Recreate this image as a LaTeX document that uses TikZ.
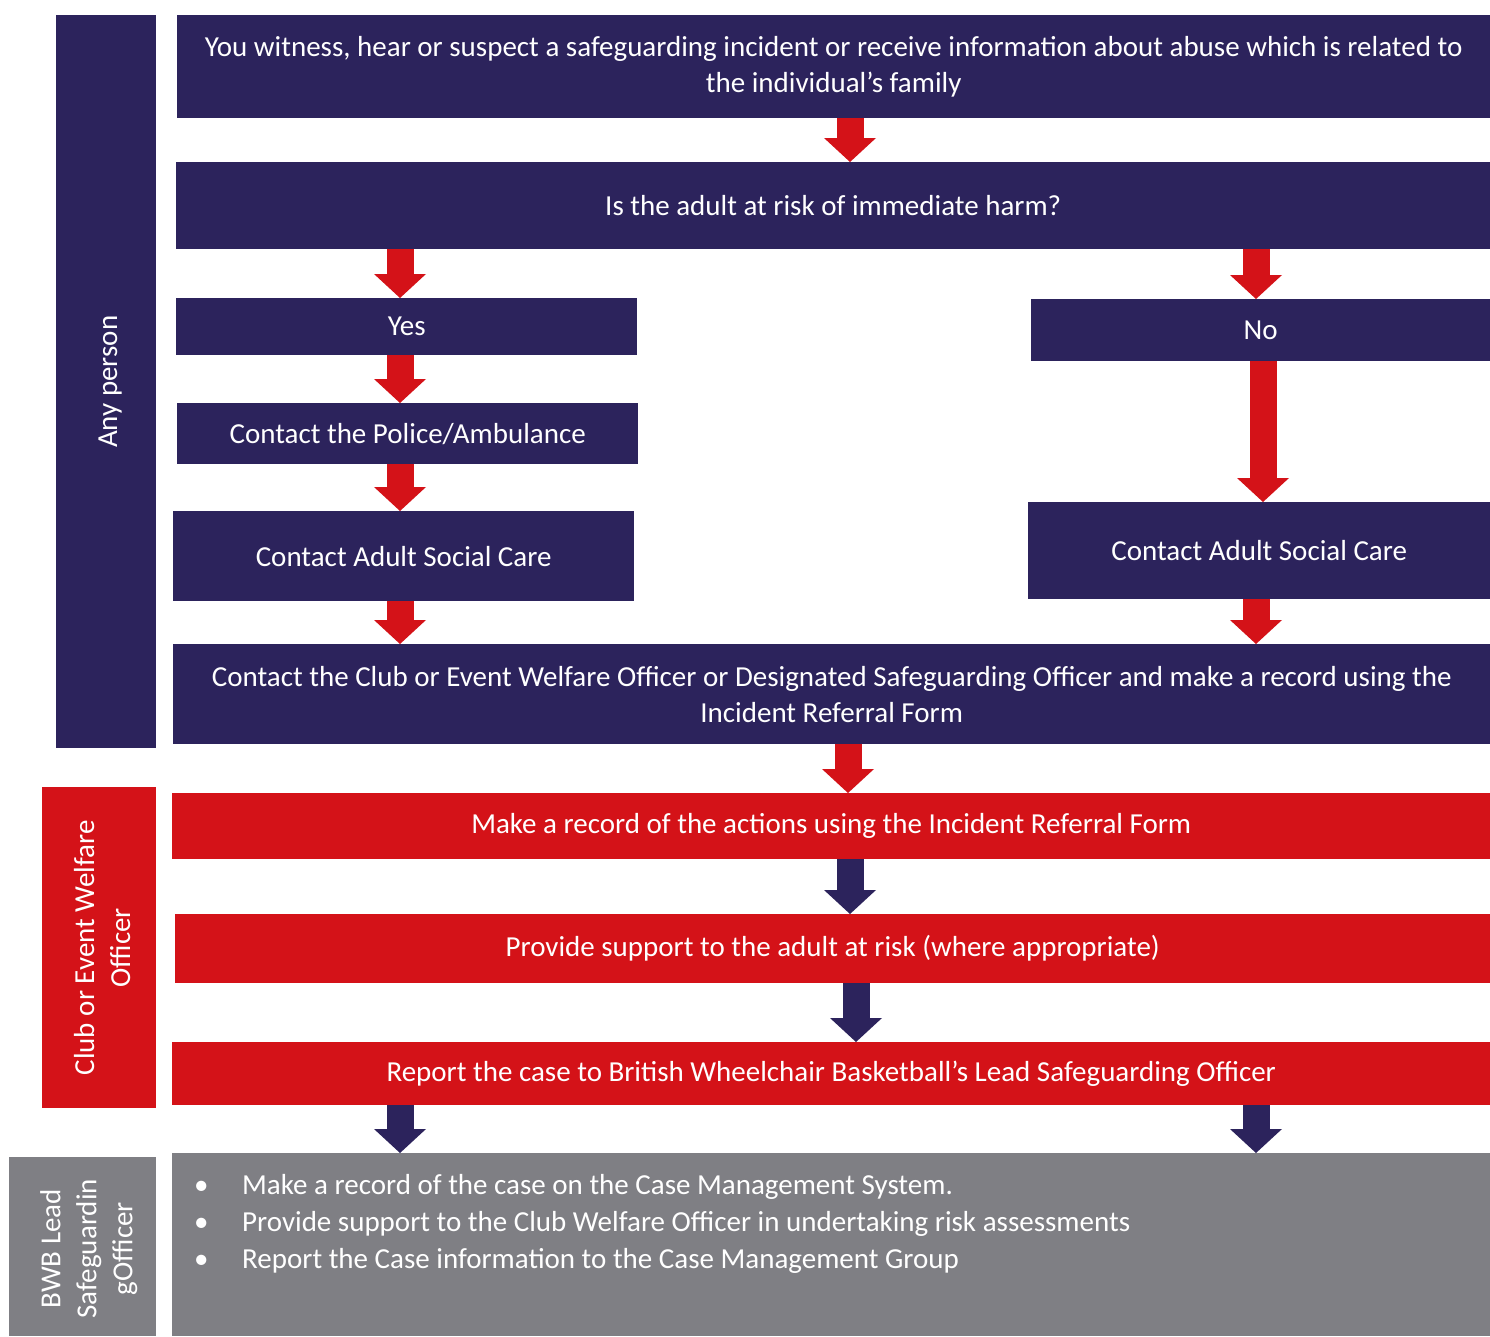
\documentclass[tikz,border=0pt]{standalone}
\usepackage{fontspec}
\setmainfont{Carlito}
\usetikzlibrary{arrows.meta,positioning}

\definecolor{bwbnavy}{RGB}{44,35,92}
\definecolor{bwbred}{RGB}{212,18,24}
\definecolor{bwbgrey}{RGB}{127,127,132}

\tikzset{
  box/.style={anchor=north west, inner sep=0pt, align=center, text=white,
    font=\fontsize{29}{36}\selectfont},
  navybox/.style={box, fill=bwbnavy},
  redbox/.style={box, fill=bwbred},
  greybox/.style={box, fill=bwbgrey, align=left},
  lanebox/.style={anchor=north west, inner sep=0pt},
  lane/.style={rotate=90, inner sep=0pt, align=center, text=white,
    font=\fontsize{29}{36}\selectfont},
  bigarrow/.style={line width=27pt, -{Triangle[width=52pt,length=24pt,line width=0pt]}},
  redarrow/.style={bigarrow, draw=bwbred},
  navyarrow/.style={bigarrow, draw=bwbnavy},
}

\begin{document}
\begin{tikzpicture}[x=1pt,y=-1pt]
\useasboundingbox (0,0) rectangle (1490,1336);

% Define coordinates for the arrow columns
\coordinate (top) at (850,0);
\coordinate (left) at (400,0);
\coordinate (right) at (1256,0);
\coordinate (longno) at (1263,0);
\coordinate (mid1) at (848,0);
\coordinate (mid2) at (856,0);

% Lanes on the left
\node[lanebox, fill=bwbnavy, minimum width=100pt, minimum height=733pt] (anyperson) at (56,15) {};
\node[lanebox, fill=bwbred, minimum width=114pt, minimum height=321pt] (welfare) at (42,787) {};
\node[lanebox, fill=bwbgrey, minimum width=147pt, minimum height=179pt] (bwblead) at (9,1157) {};
\node[lane] (anypersonlbl) at ([xshift=4pt]anyperson.center) {Any person};
\node[lane] (welfarelbl) at ([xshift=3pt]welfare.center) {Club or Event Welfare\\Officer};
\node[lane] (bwbleadlbl) at ([xshift=6pt,yshift=-2pt]bwblead.center) {BWB Lead\\Safeguardin\\gOfficer};

% Any person steps
\node[navybox, minimum width=1313pt, minimum height=103pt] (witness) at (177,15)
  {You witness, hear or suspect a safeguarding incident or receive information about abuse which is related to\\the individual’s family};
\node[navybox, minimum width=1314pt, minimum height=87pt] (risk) at (176,162) {Is the adult at risk of immediate harm?};
\node[navybox, minimum width=461pt, minimum height=57pt] (yes) at (176,298) {Yes};
\node[navybox, minimum width=461pt, minimum height=61pt] (police) at (177,403) {Contact the Police/Ambulance};
\node[navybox, minimum width=461pt, minimum height=90pt] (careL) at (173,511) {Contact Adult Social Care};
\node[navybox, minimum width=459pt, minimum height=62pt] (no) at (1031,299) {No};
\node[navybox, minimum width=462pt, minimum height=97pt] (careR) at (1028,502) {Contact Adult Social Care};
\node[navybox, minimum width=1317pt, minimum height=100pt] (officer) at (173,644)
  {Contact the Club or Event Welfare Officer or Designated Safeguarding Officer and make a record using the\\Incident Referral Form};

% Welfare officer steps
\node[redbox, minimum width=1318pt, minimum height=66pt] (record) at (172,793) {Make a record of the actions using the Incident Referral Form};
\node[redbox, minimum width=1315pt, minimum height=69pt] (support) at (175,914) {Provide support to the adult at risk (where appropriate)};
\node[redbox, minimum width=1318pt, minimum height=63pt] (report) at (172,1042) {Report the case to British Wheelchair Basketball’s Lead Safeguarding Officer};

% Lead officer steps
\node[greybox] (casesys) at (172,1153) {\parbox[c][183pt][t]{1318pt}{\fontsize{29}{37}\selectfont\raggedright\vspace*{21pt}%
  \hspace*{22pt}\makebox[48pt][l]{\textbullet}Make a record of the case on the Case Management System.\\
  \hspace*{22pt}\makebox[48pt][l]{\textbullet}Provide support to the Club Welfare Officer in undertaking risk assessments\\
  \hspace*{22pt}\makebox[48pt][l]{\textbullet}Report the Case information to the Case Management Group}};

% Arrows
\draw[redarrow] (top |- witness.south) -- (top |- risk.north);
\draw[redarrow] (left |- risk.south) -- (left |- yes.north);
\draw[redarrow] (right |- risk.south) -- (right |- no.north);
\draw[redarrow] (left |- yes.south) -- (left |- police.north);
\draw[redarrow] (left |- police.south) -- (left |- careL.north);
\draw[redarrow] (longno |- no.south) -- (longno |- careR.north);
\draw[redarrow] (left |- careL.south) -- (left |- officer.north);
\draw[redarrow] (right |- careR.south) -- (right |- officer.north);
\draw[redarrow] (mid1 |- officer.south) -- (mid1 |- record.north);
\draw[navyarrow] (top |- record.south) -- (top |- support.north);
\draw[navyarrow] (mid2 |- support.south) -- (mid2 |- report.north);
\draw[navyarrow] (left |- report.south) -- (left |- casesys.north);
\draw[navyarrow] (right |- report.south) -- (right |- casesys.north);
\end{tikzpicture}
\end{document}
